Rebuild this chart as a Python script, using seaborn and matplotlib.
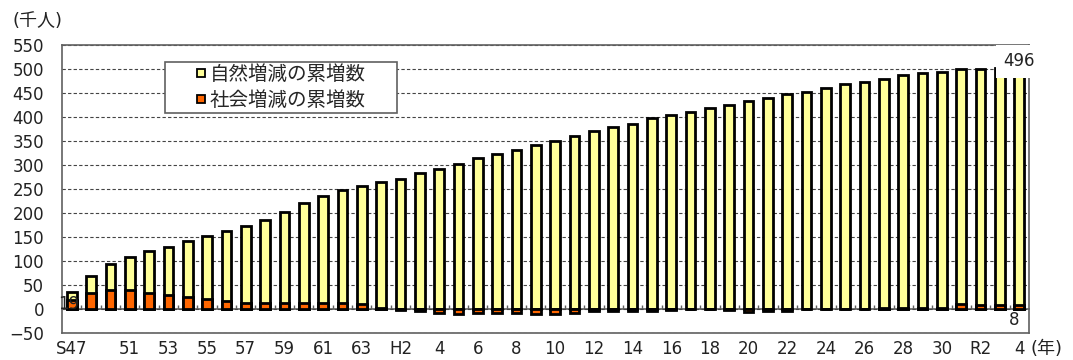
import numpy as np
import pandas as pd
import matplotlib
matplotlib.use("Agg")
import matplotlib.pyplot as plt
from matplotlib.lines import Line2D
from matplotlib.patches import Rectangle
import seaborn as sns

# Cumulative natural increase (thousand persons), one value per period
natural = [36, 68, 94, 108, 120, 130, 141, 152, 163, 173,
           186, 203, 220, 235, 248, 256, 264, 270, 283, 292,
           303, 314, 323, 332, 341, 351, 361, 370, 379, 386,
           398, 404, 411, 418, 424, 433, 440, 447, 453, 460,
           468, 473, 479, 487, 491, 494, 500, 501, 502, 496]
# Cumulative social increase (thousand persons)
social = [19, 33, 40, 40, 34, 30, 26, 21, 16, 13,
          13, 13, 13, 13, 12, 10, 2, -2, -5, -8,
          -11, -9, -9, -9, -11, -11, -9, -5, -5, -4,
          -4, -2, -1, -1, -3, -7, -5, -4, -1, -1,
          0, 0, 2, 3, 3, 3, 10, 9, 8, 8]
# Category-axis labels (every other period is labelled)
tick_labels = ["S47", "", "", "51", "", "53", "", "55", "", "57",
               "", "59", "", "61", "", "63", "", "H2", "", "4",
               "", "6", "", "8", "", "10", "", "12", "", "14",
               "", "16", "", "18", "", "20", "", "22", "", "24",
               "", "26", "", "28", "", "30", "", "R2", "", "4"]
series_names = ["自然増減の累増数", "社会増減の累増数"]
y_ticks = list(range(-50, 551, 50))

YELLOW = "#FFFF99"
ORANGE = "#FF6600"
FRAME = "#606060"
TEXT = "#222222"

sns.set_style("white")
plt.rcParams["font.family"] = ["DejaVu Sans", "Noto Sans CJK JP"]

n = len(natural)
df = pd.DataFrame({"period": np.arange(n), "natural": natural, "social": social})

fig = plt.figure(figsize=(10.73, 3.6), dpi=100)
ax = fig.add_axes([62 / 1073, 27 / 360, 967 / 1073, 288 / 360])

bar_kw = dict(saturation=1, edgecolor="black", linewidth=2.0, width=0.5,
              errorbar=None, ax=ax, zorder=2)
sns.barplot(data=df, x="period", y="natural", color=YELLOW, **bar_kw)
sns.barplot(data=df, x="period", y="social", color=ORANGE, **bar_kw)
for bar in ax.patches:
    bar.set_linewidth(2.0)
    bar.set_edgecolor("black")

ax.set_xlim(-0.5, n - 0.5)
ax.set_ylim(y_ticks[0], y_ticks[-1])
ax.set_yticks(y_ticks)
ax.set_xticks(range(n))
ax.set_xticklabels(tick_labels)
ax.set_xlabel("")
ax.set_ylabel("")
ax.tick_params(axis="both", length=0, labelsize=12, labelcolor=TEXT)
ax.tick_params(axis="y", pad=13)
ax.tick_params(axis="x", pad=5)

ax.yaxis.grid(True, linestyle=(0, (3, 2)), color="#444444", linewidth=0.8)
ax.set_axisbelow(True)
for sp in ax.spines.values():
    sp.set_visible(True)
    sp.set_color(FRAME)
    sp.set_linewidth(1.2)

# Category axis crossing at zero, with tick marks between the bars
ymin, ymax = ax.get_ylim()
zero_axis = ax.secondary_xaxis(-ymin / (ymax - ymin))
zero_axis.set_xticks(np.arange(0.5, n - 1, 1.0))
zero_axis.tick_params(direction="in", length=3, width=1, color=FRAME,
                      labelbottom=False)
zero_axis.spines["bottom"].set_color(FRAME)
zero_axis.spines["bottom"].set_linewidth(1.2)

# Value labels
ax.annotate(f"{social[0]}", xy=(0, social[0] / 2), xytext=(-2, 0),
            textcoords="offset points", ha="center", va="center",
            fontsize=12, color=TEXT, zorder=4)
ax.annotate(f"{natural[-1]}", xy=(n - 1, natural[-1]), xytext=(0, 7),
            textcoords="offset points", ha="center", va="center",
            fontsize=12, color=TEXT, zorder=6,
            bbox=dict(boxstyle="square,pad=0.45", facecolor="white",
                      edgecolor="none"))
ax.annotate(f"{social[-1]}", xy=(n - 1, 0), xytext=(-4, -8),
            textcoords="offset points", ha="center", va="center",
            fontsize=12, color=TEXT, zorder=6)

# Legend with its own framed box
lx, ly, lw, lh = 0.1065, 0.764, 0.2400, 0.177
ax.add_patch(Rectangle((lx, ly), lw, lh, transform=ax.transAxes,
                       facecolor="white", edgecolor=FRAME, linewidth=1.2,
                       zorder=4))
handles = [Line2D([], [], linestyle="none", marker="s", markersize=6,
                  markerfacecolor=c, markeredgecolor="black",
                  markeredgewidth=1.3)
           for c in (YELLOW, ORANGE)]
ax.legend(handles, series_names, loc="center",
          bbox_to_anchor=(lx + lw / 2, ly + lh / 2), frameon=False,
          fontsize=14, handlelength=0.4, handletextpad=0.25,
          labelspacing=0.35, borderpad=0)

# Units
fig.text(12 / 1073, 1 - 21 / 360, "(千人)", ha="left", va="center",
         fontsize=13, color=TEXT)
fig.text(1047 / 1073, 1 - 349 / 360, "(年)", ha="center", va="center",
         fontsize=13, color=TEXT)

fig.savefig("out.png", dpi=100)
